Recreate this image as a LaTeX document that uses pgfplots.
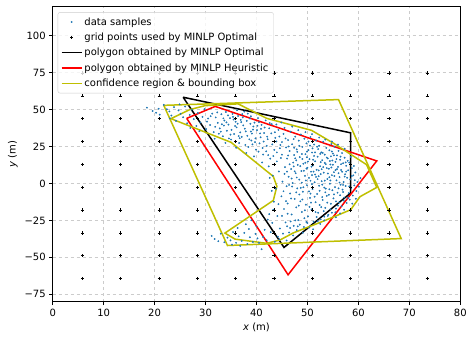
\documentclass[border=0pt]{standalone}
\usepackage{pgfplots}
\pgfplotsset{compat=1.18}
\usepackage{fontspec}
\setmainfont{DejaVu Sans}
\definecolor{tabblue}{HTML}{1F77B4}
\definecolor{olivey}{rgb}{0.75,0.75,0}
\pgfplotsset{
  linelegend/.style={legend image code/.code={\draw[##1] (0pt,0pt) -- (20pt,0pt);}},
  marklegend/.style={legend image code/.code={\draw[##1] plot coordinates {(10pt,0pt)};}},
}
\begin{document}
\begin{tikzpicture}
\useasboundingbox (-52.7pt,-35.3pt) rectangle (414.3pt,301.7pt);
\begin{axis}[
  width=407.6pt, height=295.7pt, scale only axis,
  xmin=0, xmax=80, ymin=-80, ymax=120,
  xtick={0,10,...,80},
  xticklabels={0,10,20,30,40,50,60,70,80},
  ytick={-75,-50,-25,0,25,50,75,100},
  yticklabels={−75,−50,−25,0,25,50,75,100},
  tick label style={font=\fontsize{10}{12}\selectfont},
  label style={font=\fontsize{10}{12}\selectfont},
  xlabel={\textit{x} (m)}, ylabel={\textit{y} (m)},
  grid=major,
  major grid style={dashed, black!20, line width=0.4pt},
  tick align=outside, major tick length=3.5pt,
  tick style={black, line width=0.8pt},
  xtick pos=bottom, ytick pos=left,
  axis line style={black, line width=0.8pt},
  legend style={at={(0.0123,0.979)}, anchor=north west, draw=black!20, rounded corners=2pt,
    fill=white, fill opacity=0.8, text opacity=1, font=\fontsize{10}{12}\selectfont,
    row sep=2.3pt, inner xsep=3pt, inner ysep=3pt},
  legend cell align=left,
]
% data samples
\addplot[tabblue, only marks, mark=*, mark size=0.7pt, mark options={draw=none, fill=tabblue}, marklegend] coordinates {
(18.5,51.2) (19.6,49.0) (20.3,47.8) (21.0,46.5) (21.8,53.1) (22.4,50.2) (22.9,48.7) (23.3,45.9) (23.8,51.6) (24.2,42.3) (24.7,49.4) (25.1,47.1) (25.6,44.8) (26.0,52.0) (26.4,40.7) (26.9,46.3) (27.3,49.9) (27.7,43.5) (28.2,38.9) (28.5,47.6) (29.0,41.2) (29.4,45.0) (29.8,50.3) (30.1,36.8) (30.5,43.9) (30.9,39.5) (31.3,47.2) (31.6,34.7) (32.0,44.6) (32.4,41.0) (20.8,50.5) (23.0,44.0) (24.9,53.5) (27.0,37.5) (28.8,35.3)
(32.8,37.2) (33.1,46.8) (33.4,31.9) (33.7,42.5) (34.0,48.3) (34.2,35.6) (34.5,39.8) (34.8,44.1) (35.0,29.7) (35.3,47.0) (35.6,33.4) (35.9,41.7) (36.1,37.9) (36.4,45.6) (36.6,27.3) (36.9,43.0) (37.1,31.5) (37.4,39.2) (37.6,48.6) (37.9,35.2) (38.1,42.3) (38.4,24.6) (38.6,29.8) (38.9,45.4) (39.1,33.7) (39.4,38.5) (39.6,41.1) (39.9,22.8) (40.1,36.0) (40.3,44.2) (40.6,27.1) (40.8,31.2) (41.0,39.6) (41.3,19.5) (41.5,34.1) (41.8,42.6) (42.0,25.4) (42.2,29.9) (42.5,37.3) (42.7,16.8) (33.5,44.0) (34.6,30.4) (35.8,38.8) (36.8,34.5) (37.8,26.0) (38.8,40.3) (39.8,30.5) (40.9,36.9) (41.9,21.7) (36.2,49.5) (38.3,47.2) (40.5,41.4) (37.3,44.7) (39.2,26.4) (35.1,36.2) (34.1,41.3) (32.6,33.6) (31.8,30.2) (33.9,27.4) (36.0,24.1) (38.0,20.6) (39.5,18.3) (41.1,14.2) (42.4,11.5) (42.9,33.8) (43.0,40.1)
(43.2,5.3) (43.4,-12.4) (43.5,22.7) (43.7,30.8) (43.8,-3.6) (44.0,14.9) (44.1,-22.1) (44.3,36.2) (44.4,8.1) (44.6,-30.5) (44.7,26.0) (44.9,-8.7) (45.0,19.4) (45.1,1.2) (45.3,33.5) (45.4,-17.3) (45.6,11.0) (45.7,-26.4) (45.8,24.3) (45.9,-1.9) (44.2,-36.0) (43.9,28.4) (44.8,17.2) (45.5,6.4)
(46.0,16.8) (46.1,-13.6) (46.2,29.3) (46.3,4.5) (46.4,-33.2) (46.5,21.9) (46.6,-6.8) (46.7,35.0) (46.8,9.7) (46.9,-21.0) (47.0,26.5) (47.1,0.3) (47.2,14.1) (47.3,-28.7) (47.4,19.2) (47.5,-10.5) (47.6,31.6) (47.7,6.9) (47.8,-16.2) (47.9,23.0) (48.0,-3.4) (48.1,12.5) (48.2,-24.8) (48.3,28.9) (48.4,2.6) (48.5,17.8) (48.6,-12.1) (48.7,33.1) (48.8,8.4) (48.9,-19.3) (46.5,12.9) (47.0,-2.1) (47.5,8.2) (48.0,21.4) (46.3,25.0) (47.8,15.6) (48.4,-7.5) (46.9,3.3) (47.3,30.0) (48.6,11.7) (46.1,-20.5) (47.6,-25.0)
(49.0,24.7) (49.1,-5.6) (49.2,13.3) (49.3,-29.5) (49.4,30.2) (49.5,5.1) (49.6,19.8) (49.7,-14.4) (49.8,27.1) (49.9,-1.2) (50.0,10.6) (50.1,-22.3) (50.2,22.5) (50.3,3.7) (50.4,16.4) (50.5,-9.8) (50.6,31.4) (50.7,7.9) (50.8,-17.6) (50.9,20.9) (51.0,-3.9) (51.1,12.2) (51.2,-26.0) (51.3,26.3) (51.4,0.8) (51.5,15.0) (51.6,-12.7) (51.7,29.0) (51.8,9.2) (51.9,-7.1) (49.3,8.5) (49.7,2.0) (50.1,14.8) (50.5,25.6) (50.9,-0.5) (51.3,18.6) (51.7,4.4) (49.0,-10.9) (50.3,-5.4) (51.0,23.7) (49.5,-18.2) (50.7,-13.0) (51.5,6.0) (49.9,17.7) (50.8,11.3)
(52.0,18.1) (52.1,-19.9) (52.2,4.9) (52.3,25.5) (52.4,-5.0) (52.5,11.6) (52.6,-24.3) (52.7,21.0) (52.8,1.5) (52.9,15.7) (53.0,-11.2) (53.1,28.2) (53.2,7.3) (53.3,-2.8) (53.4,19.5) (53.5,-16.5) (53.6,13.0) (53.7,24.0) (53.8,-8.4) (53.9,3.0) (54.0,16.9) (54.1,-21.2) (54.2,9.9) (54.3,22.4) (54.4,-0.2) (54.5,12.8) (54.6,-13.8) (54.7,26.7) (54.8,5.6) (54.9,-4.6) (52.2,8.8) (52.6,14.4) (53.0,20.6) (53.4,1.9) (53.8,10.4) (54.2,-7.7) (54.6,18.3) (52.4,-14.6) (53.2,-18.7) (54.0,6.7) (52.9,-0.8) (53.6,-3.5) (52.1,23.2) (54.4,15.2)
(55.0,20.2) (55.1,-10.1) (55.2,7.6) (55.3,24.8) (55.4,-2.5) (55.5,14.6) (55.6,-17.0) (55.7,2.1) (55.8,18.9) (55.9,-6.3) (56.0,11.2) (56.1,22.0) (56.2,-12.9) (56.3,4.3) (56.4,16.0) (56.5,-0.9) (56.6,9.1) (56.7,-15.4) (56.8,20.5) (56.9,-4.2) (57.0,13.7) (57.1,1.0) (57.2,-9.6) (57.3,17.4) (57.4,6.2) (57.5,-1.7) (57.6,11.9) (57.7,-13.2) (57.8,3.8) (57.9,15.3) (55.3,5.0) (55.8,9.7) (56.4,-8.0) (57.0,-5.8) (55.5,-19.5) (56.8,7.9) (55.0,12.6)
(58.0,8.9) (58.1,-6.5) (58.2,14.1) (58.3,-11.0) (58.4,2.7) (58.6,-3.0) (58.7,10.3) (58.9,-8.2) (59.0,5.5) (59.2,-1.3) (59.4,7.4) (59.6,-5.1) (59.8,0.9) (60.1,-2.2) (60.4,3.6) (58.5,18.0) (59.1,11.8) (58.8,-13.7) (59.5,-10.4)
(44.5,-37.8) (45.2,-34.0) (45.9,-38.6) (46.6,-30.1) (47.2,-35.2) (47.9,-31.6) (48.5,-27.9) (49.1,-33.4) (49.8,-26.1) (50.4,-29.8) (51.1,-31.0) (51.8,-22.7) (52.5,-27.4) (53.3,-25.0) (54.0,-22.0) (54.8,-19.8) (55.6,-22.9) (56.4,-20.3) (57.2,-17.8) (43.6,-39.5) (42.8,-33.0) (43.1,-26.7) (42.5,-20.8) (42.0,-38.4) (41.3,-36.2) (41.0,-44.5) (40.5,-40.2)
(31.2,-35.5) (31.8,-37.6) (32.5,-39.1) (33.0,-34.0) (33.7,-39.8) (34.3,-36.7) (34.9,-38.5) (35.4,-32.9) (36.0,-40.2) (36.5,-35.8) (37.1,-38.9) (37.6,-33.5) (38.2,-41.0) (38.7,-36.4) (39.3,-39.6) (39.8,-34.1) (40.2,-37.2) (36.8,-42.3) (35.2,-41.4) (38.5,-30.8) (37.9,-27.6) (39.0,-24.9) (40.0,-29.0) (41.6,-31.4) (36.3,-30.2)
(43.0,-5.0) (42.6,3.8) (43.3,-17.8) (42.2,-24.5)
(45.5,37.6) (47.0,38.4) (48.2,36.0) (49.6,34.7) (50.9,33.3) (52.3,31.0) (53.5,29.6) (54.8,28.4) (56.0,26.2) (57.3,23.5) (43.9,39.9) (44.9,41.2)
(30.3,41.8) (31.0,45.5) (31.9,38.3) (32.3,48.0) (33.0,35.0) (33.6,39.1) (34.4,46.0) (34.9,33.0) (35.5,43.2) (36.3,40.4) (36.7,30.6) (37.2,46.9) (37.7,37.0) (38.2,32.2) (38.7,43.9) (39.3,36.4) (39.7,27.9) (40.2,39.0) (40.7,33.8) (41.2,24.0) (41.6,37.8) (42.1,31.6) (42.6,40.8) (43.1,26.4) (43.6,34.6) (44.0,21.0) (44.5,31.7) (45.0,28.0) (42.3,19.2) (40.4,21.5) (38.9,35.1) (37.0,41.5) (35.4,45.0) (33.2,40.0) (36.5,32.0) (39.0,29.0) (41.4,28.3) (43.3,18.5) (44.6,23.8) (45.7,30.4)
(46.2,18.9) (46.8,-10.2) (47.4,24.1) (47.9,4.0) (48.3,-15.0) (48.9,19.9) (49.2,-2.6) (49.8,10.0) (50.2,28.3) (50.6,-6.9) (51.1,16.0) (51.6,-19.4) (52.0,2.9) (52.5,20.0) (52.9,-9.2) (53.4,13.9) (53.9,-13.0) (54.3,4.2) (54.8,21.6) (55.2,-7.4) (55.7,16.5) (56.1,-3.3) (56.6,13.0) (57.1,-11.6) (57.6,8.0) (58.2,-2.0) (58.7,5.0) (46.0,8.0) (46.7,-25.7) (47.3,11.5) (47.8,-6.0) (48.4,25.4) (48.9,0.5) (49.4,-23.5) (49.9,21.5) (50.4,-15.9) (50.9,5.6) (51.4,-9.0) (51.9,24.8) (52.3,-1.6) (52.8,9.6) (53.3,-22.5) (53.8,17.5) (54.3,-4.0) (54.7,10.8) (55.2,19.0) (55.6,-12.2) (56.1,6.9) (56.5,18.1) (57.0,-1.0) (57.5,14.2) (58.0,-9.8) (59.3,2.2) (45.3,-5.3) (46.4,-1.0) (47.6,17.0) (48.7,-3.0) (49.6,14.0) (50.6,1.8) (51.5,21.0) (52.6,6.3) (53.5,-6.0) (54.5,2.0) (55.5,9.0) (56.3,0.6) (57.3,4.6) (50.0,-26.8) (52.0,-25.6) (54.5,-17.5) (56.0,-15.0) (48.1,-29.0) (46.0,-29.0) (45.0,-22.0) (44.3,-14.0) (45.8,-12.0) (53.1,11.0) (51.2,8.0) (49.0,16.5) (54.9,15.5) (52.7,-16.0)
};
\addlegendentry{data samples}
% grid points
\addplot[only marks, mark=+, mark size=1.6pt, mark options={black, line width=0.7pt}, marklegend] coordinates {
(5.85,74.7) (13.37,74.7) (20.89,74.7) (28.41,74.7) (35.93,74.7) (43.45,74.7) (50.97,74.7) (58.49,74.7) (66.01,74.7) (73.53,74.7)
(5.85,59.2) (13.37,59.2) (20.89,59.2) (28.41,59.2) (35.93,59.2) (43.45,59.2) (50.97,59.2) (58.49,59.2) (66.01,59.2) (73.53,59.2)
(5.85,43.8) (13.37,43.8) (20.89,43.8) (28.41,43.8) (35.93,43.8) (43.45,43.8) (50.97,43.8) (58.49,43.8) (66.01,43.8) (73.53,43.8)
(5.85,28.4) (13.37,28.4) (20.89,28.4) (28.41,28.4) (35.93,28.4) (43.45,28.4) (50.97,28.4) (58.49,28.4) (66.01,28.4) (73.53,28.4)
(5.85,12.9) (13.37,12.9) (20.89,12.9) (28.41,12.9) (35.93,12.9) (43.45,12.9) (50.97,12.9) (58.49,12.9) (66.01,12.9) (73.53,12.9)
(5.85,-2.6) (13.37,-2.6) (20.89,-2.6) (28.41,-2.6) (35.93,-2.6) (43.45,-2.6) (50.97,-2.6) (58.49,-2.6) (66.01,-2.6) (73.53,-2.6)
(5.85,-18.0) (13.37,-18.0) (20.89,-18.0) (28.41,-18.0) (35.93,-18.0) (43.45,-18.0) (50.97,-18.0) (58.49,-18.0) (66.01,-18.0) (73.53,-18.0)
(5.85,-33.5) (13.37,-33.5) (20.89,-33.5) (28.41,-33.5) (35.93,-33.5) (43.45,-33.5) (50.97,-33.5) (58.49,-33.5) (66.01,-33.5) (73.53,-33.5)
(5.85,-48.9) (13.37,-48.9) (20.89,-48.9) (28.41,-48.9) (35.93,-48.9) (43.45,-48.9) (50.97,-48.9) (58.49,-48.9) (66.01,-48.9) (73.53,-48.9)
(5.85,-64.3) (13.37,-64.3) (20.89,-64.3) (28.41,-64.3) (35.93,-64.3) (43.45,-64.3) (50.97,-64.3) (58.49,-64.3) (66.01,-64.3) (73.53,-64.3)
};
\addlegendentry{grid points used by MINLP Optimal}
% black polygon
\addplot[black, line width=1.5pt, mark=none, linelegend] coordinates {
(25.6,58.3) (58.49,34.2) (58.49,-6.5) (45.4,-43.3) (25.6,58.3)
};
\addlegendentry{polygon obtained by MINLP Optimal}
% red polygon
\addplot[red, line width=1.5pt, mark=none, linelegend] coordinates {
(26.3,44.0) (31.9,52.1) (63.6,15.2) (46.2,-61.8) (26.3,44.0)
};
\addlegendentry{polygon obtained by MINLP Heuristic}
% bounding box
\addplot[olivey, line width=1.5pt, mark=none, linelegend] coordinates {
(21.8,52.8) (56.1,56.7) (68.4,-37.3) (34.3,-42.0) (21.8,52.8)
};
\addlegendentry{confidence region \& bounding box}
% confidence region
\addplot[olivey, line width=1.5pt, mark=none, forget plot] coordinates {
(23.2,43.8) (26.9,49.9) (29.9,52.6) (36.4,53.8) (42.0,44.0) (50.8,35.9) (55.2,27.0) (61.6,12.7) (63.6,-2.7) (60.3,-9.0) (58.5,-17.8) (53.5,-25.0) (47.2,-33.5) (44.6,-38.3) (42.0,-40.5) (35.8,-37.7) (33.8,-33.6) (43.3,-11.5) (44.0,-2.0) (43.3,4.7) (35.0,27.8) (23.2,43.8)
};
\end{axis}
\end{tikzpicture}
\end{document}
